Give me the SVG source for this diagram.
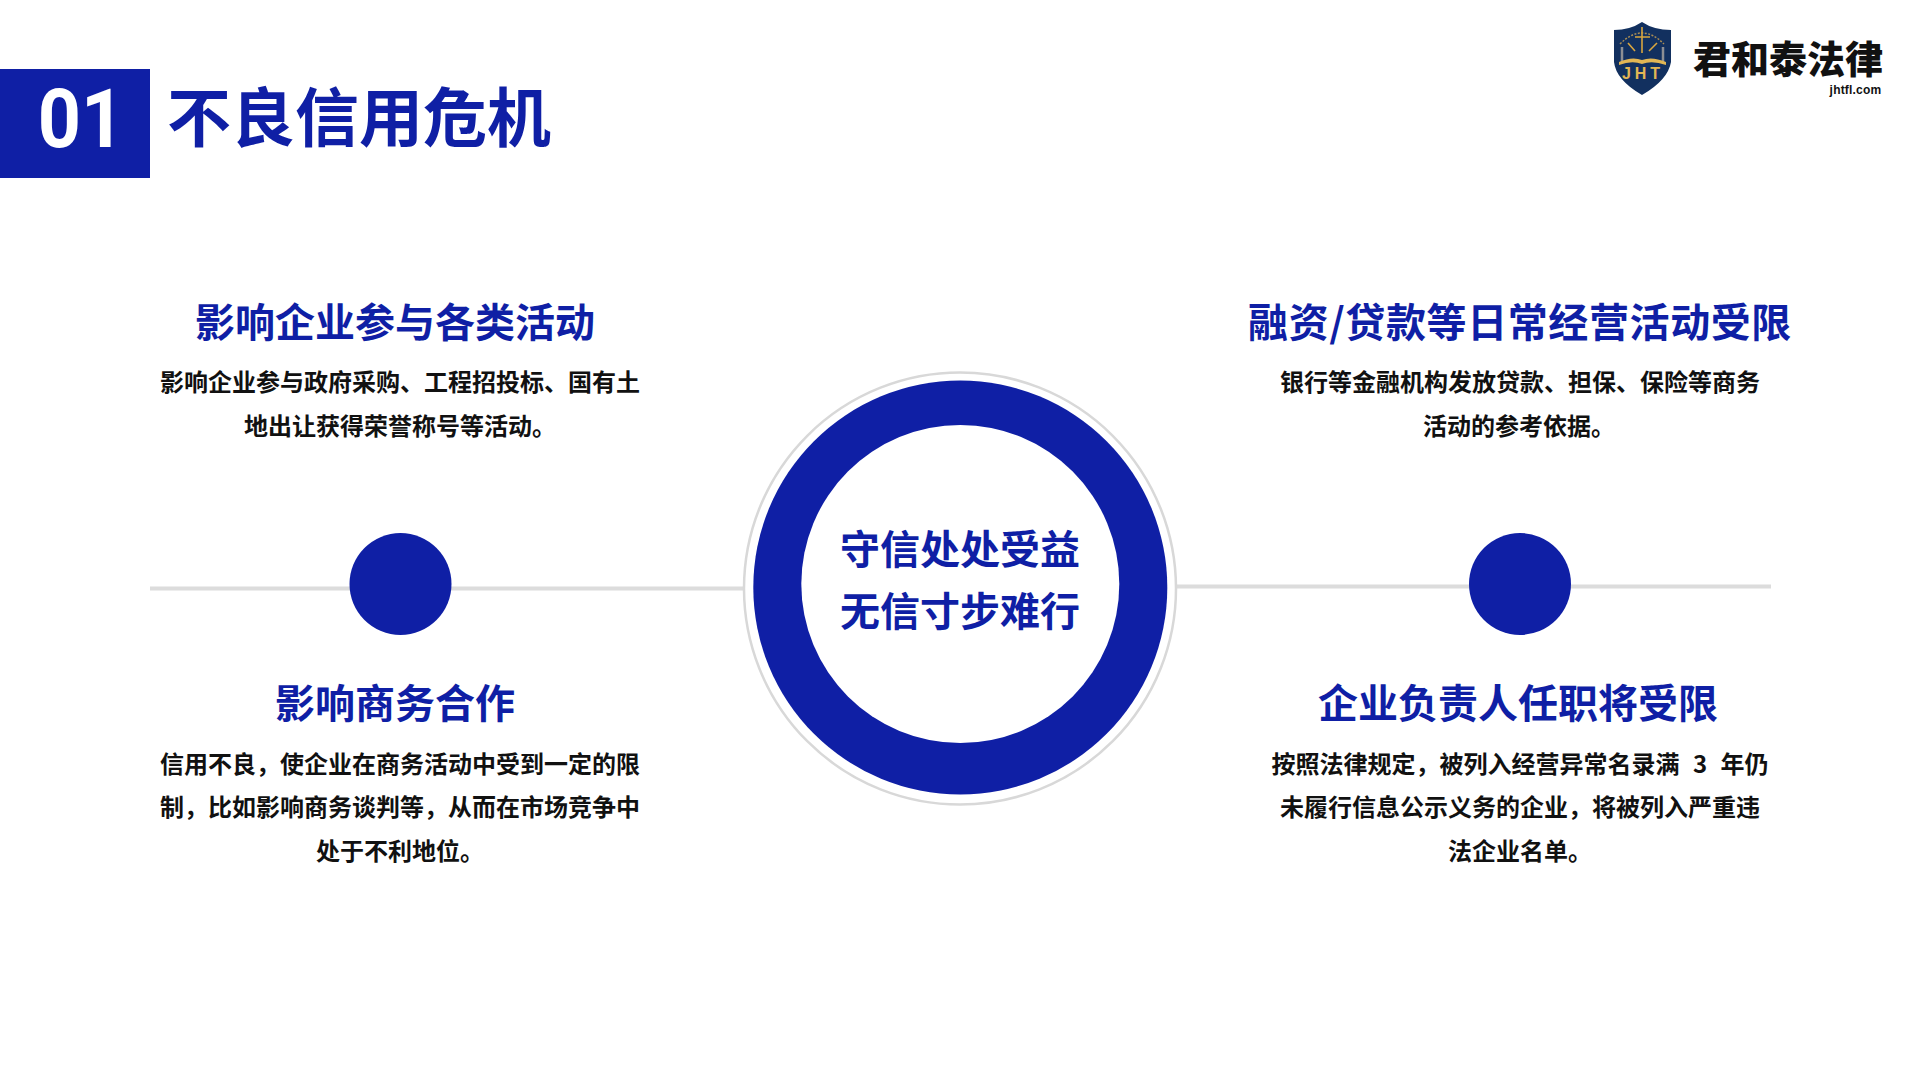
<svg xmlns="http://www.w3.org/2000/svg" width="1920" height="1080" viewBox="0 0 1920 1080">
<style>
text{font-family:"Noto Sans CJK SC","Noto Sans",sans-serif;text-anchor:middle}
.h{font-size:40px;font-weight:700;fill:#0f1fa5}
.b{font-size:24px;font-weight:700;fill:#111}
.blue{fill:#0f1fa5}
.gold{fill:none;stroke:#d9a63f;stroke-width:1.6}
.ln{stroke:#dcdcdc;stroke-width:4;fill:none}
</style>
<rect width="1920" height="1080" fill="#fff"/>
<g id="header">
<rect class="blue" x="0" y="69" width="150" height="109"/>
<text transform="translate(81 147) scale(.92 1)" style="font-family:Roboto,sans-serif;font-size:82px;font-weight:700;fill:#fff">01</text>
<text x="359" y="141" style="font-size:64px;font-weight:700;fill:#0f1fa5">不良信用危机</text>
</g>
<g id="logo">
<path d="M1642 22Q1630 30 1614 30V62Q1616 80 1642 95Q1668 80 1671 62V30Q1654 30 1642 22Z" fill="#12305f"/>
<path d="M1620 44Q1642 22 1664 44" fill="none" stroke="#a98d55" stroke-width="1.5" stroke-dasharray="2 1.5"/>
<path class="gold" d="M1642 27V53M1635 37H1650M1628 43l7 8M1657 43l-8 8"/>
<path d="M1622 47V62M1663 47V62" fill="none" stroke="#8d8f94" stroke-width="2.5"/>
<path d="M1619 62Q1632 56 1642 60Q1652 56 1666 62V65Q1652 60 1642 64Q1632 60 1619 65Z" fill="#e2b654"/>
<text x="1643" y="79" style="font-family:'Liberation Sans',sans-serif;font-size:16px;font-weight:700;fill:#e2b654;letter-spacing:4px">JHT</text>
<text x="1788" y="72.5" style="font-size:38px;font-weight:900;fill:#111">君和泰法律</text>
<text x="1855.5" y="94" style="font-family:'Liberation Sans',sans-serif;font-size:12px;font-weight:700;letter-spacing:.2px;fill:#111">jhtfl.com</text>
</g>
<g id="connectors">
<line class="ln" x1="150" y1="588.5" x2="744" y2="588.5"/>
<line class="ln" x1="1176" y1="586.5" x2="1771" y2="586.5"/>
</g>
<g id="center">
<circle cx="960" cy="588.5" r="216" fill="#fff" stroke="#d8d8d8" stroke-width="2.5"/>
<circle class="blue" cx="960.3" cy="587.5" r="207"/>
<circle cx="960.3" cy="584" r="159" fill="#fff"/>
<text class="h" x="960" y="564">守信处处受益</text>
<text class="h" x="960" y="626">无信寸步难行</text>
</g>
<g id="dot-left"><circle class="blue" cx="400.5" cy="584" r="51"/></g>
<g id="dot-right"><circle class="blue" cx="1520" cy="584" r="51"/></g>
<g id="card-tl">
<text class="h" x="395" y="337">影响企业参与各类活动</text>
<text class="b" x="400" y="391">影响企业参与政府采购、工程招投标、国有土</text>
<text class="b" x="400" y="434.5">地出让获得荣誉称号等活动。</text>
</g>
<g id="card-tr">
<text class="h" x="1520" y="337" style="letter-spacing:.6px">融资/贷款等日常经营活动受限</text>
<text class="b" x="1520" y="391">银行等金融机构发放贷款、担保、保险等商务</text>
<text class="b" x="1519" y="434.5">活动的参考依据。</text>
</g>
<g id="card-bl">
<text class="h" x="395" y="718">影响商务合作</text>
<text class="b" x="400" y="773">信用不良，使企业在商务活动中受到一定的限</text>
<text class="b" x="400" y="816">制，比如影响商务谈判等，从而在市场竞争中</text>
<text class="b" x="400" y="860">处于不利地位。</text>
</g>
<g id="card-br">
<text class="h" x="1518" y="718">企业负责人任职将受限</text>
<text class="b" x="1520" y="773">按照法律规定，被列入经营异常名录满<tspan dx="8"> 3 </tspan><tspan dx="8">年仍</tspan></text>
<text class="b" x="1520" y="816">未履行信息公示义务的企业，将被列入严重违</text>
<text class="b" x="1520" y="860">法企业名单。</text>
</g>
</svg>
